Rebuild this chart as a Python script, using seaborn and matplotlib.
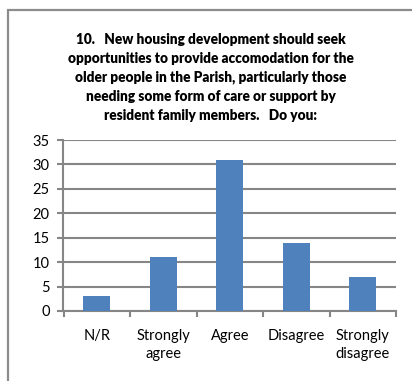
import matplotlib
matplotlib.use("Agg")
import matplotlib.pyplot as plt
import seaborn as sns
import pandas as pd
from matplotlib.patches import Rectangle

categories = ["N/R", "Strongly\nagree", "Agree", "Disagree", "Strongly\ndisagree"]
counts = [3, 11, 31, 14, 7]
y_ticks = [0, 5, 10, 15, 20, 25, 30, 35]
title = ("10.   New housing development should seek\n"
         "opportunities to provide accomodation for the\n"
         "older people in the Parish, particularly those\n"
         "needing some form of care or support by\n"
         "resident family members.   Do you:")

sns.set_theme(style="white")
plt.rcParams["font.family"] = ["Lato", "DejaVu Sans"]

W, H = 412, 381
fig = plt.figure(figsize=(W / 100, H / 100), dpi=100)
fig.patch.set_facecolor("white")

# outer chart frame (extends past the right and bottom edges)
frame = Rectangle((8 / W, -0.1), 1.2, 1 - 10 / H + 0.1, transform=fig.transFigure,
                  fill=False, edgecolor="#8c8c8c", linewidth=1.6, zorder=0)
fig.add_artist(frame)

left, right, top, bottom = 63.5, 396, 140, 311
ax = fig.add_axes([left / W, 1 - bottom / H, (right - left) / W, (bottom - top) / H])

df = pd.DataFrame({"category": categories, "count": counts})
sns.barplot(data=df, x="category", y="count", color="#4F81BD", saturation=1,
            width=0.4, ax=ax, zorder=3, linewidth=0)

grid_c = "#868686"
ax.set_ylim(0, 35)
ax.set_yticks(y_ticks)
ax.set_xlim(-0.5, len(categories) - 0.5)
ax.yaxis.grid(True, color=grid_c, linewidth=1.5, zorder=0)
ax.set_axisbelow(True)
for s in ["top", "right"]:
    ax.spines[s].set_visible(False)
for s in ["left", "bottom"]:
    ax.spines[s].set_color(grid_c)
    ax.spines[s].set_linewidth(1.5)

ax.set_xlabel("")
ax.set_ylabel("")
ax.tick_params(axis="y", which="major", direction="out", length=4, width=1.5,
               color=grid_c, labelsize=10.5, pad=6, left=True)
ax.set_xticks(range(len(categories)))
ax.set_xticklabels(categories, fontsize=10.5, linespacing=1.4)
ax.tick_params(axis="x", which="major", length=0, pad=13)
ax.set_xticks([i - 0.5 for i in range(len(categories) + 1)], minor=True)
ax.tick_params(axis="x", which="minor", direction="out", length=4, width=1.5,
               color=grid_c, bottom=True)
for lbl in ax.get_xticklabels() + ax.get_yticklabels():
    lbl.set_color("black")

fig.text(211 / W, 1 - 33 / H, title, ha="center", va="top", fontsize=9.8,
         fontweight="heavy", linespacing=1.52, color="black")

fig.savefig("out.png", dpi=100, facecolor="white")
